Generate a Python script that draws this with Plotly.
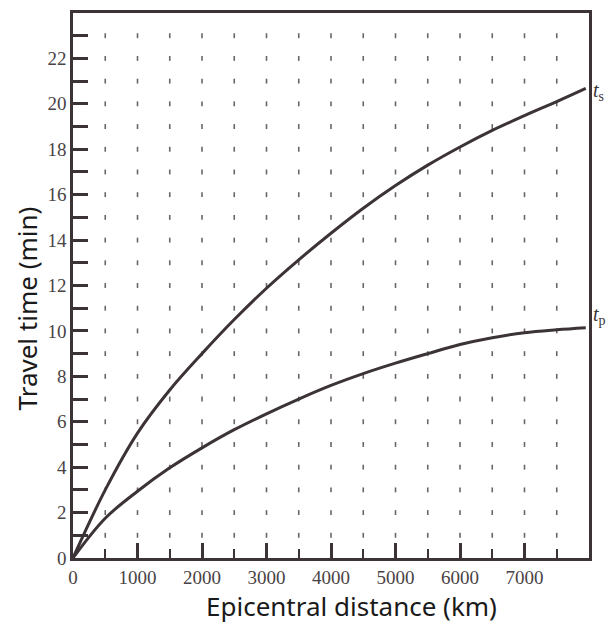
import plotly.graph_objects as go

# ---- data ----
distance_km = [0, 500, 1000, 1500, 2000, 2500, 3000, 3500, 4000, 4500,
               5000, 5500, 6000, 6500, 7000, 7500, 7950]
t_s = [0, 3.0, 5.5, 7.4, 9.0, 10.5, 11.88, 13.13, 14.3, 15.4,
       16.4, 17.3, 18.1, 18.83, 19.48, 20.1, 20.68]
t_p = [0, 1.75, 2.94, 3.97, 4.85, 5.65, 6.35, 7.0, 7.6, 8.12,
       8.58, 9.0, 9.4, 9.7, 9.92, 10.05, 10.14]

x_major_ticks = [0, 1000, 2000, 3000, 4000, 5000, 6000, 7000]
x_tick_labels = ["0", "1000", "2000", "3000", "4000", "5000", "6000", "7000"]
x_minor_ticks = [500, 1500, 2500, 3500, 4500, 5500, 6500, 7500]
y_ticks = list(range(0, 24))
y_tick_labels = [str(v) if v % 2 == 0 else "" for v in y_ticks]

grid_x = [500 * i for i in range(1, 16)]   # dot columns
grid_y = list(range(1, 24))                # dot rows

INK = "#3b3335"
LABEL = "#4a4345"

fig = go.Figure()

# dotted grid (short vertical dashes)
dx, dy = [], []
for gx in grid_x:
    for gy in grid_y:
        dx.append(gx)
        dy.append(gy)
fig.add_trace(go.Scatter(x=dx, y=dy, mode="markers", hoverinfo="skip",
                         marker=dict(symbol="line-ns", size=3.5,
                                     line=dict(width=1.6, color="#6b6466")),
                         showlegend=False))

fig.add_trace(go.Scatter(x=distance_km, y=t_s, mode="lines", name="ts",
                         line=dict(color=INK, width=3, shape="spline", smoothing=1.0),
                         showlegend=False))
fig.add_trace(go.Scatter(x=distance_km, y=t_p, mode="lines", name="tp",
                         line=dict(color=INK, width=3, shape="spline", smoothing=1.0),
                         showlegend=False))

# The page body has an 8px default margin; size the figure so it fits the window.
fig.update_layout(
    width=606, height=621,
    margin=dict(l=65, r=25, t=2, b=71),
    paper_bgcolor="white", plot_bgcolor="white",
    xaxis=dict(range=[0, 8000], tickmode="array", tickvals=x_major_ticks,
               ticktext=x_tick_labels, ticks="inside", ticklen=15, tickwidth=2.5,
               tickcolor=INK, showgrid=False, zeroline=False,
               showline=True, linecolor=INK, linewidth=2.5, mirror=True,
               tickfont=dict(family="Liberation Serif", size=19, color=LABEL),
               minor=dict(tickmode="array", tickvals=x_minor_ticks, ticks="inside",
                          ticklen=9, tickwidth=2, tickcolor=INK, showgrid=False)),
    yaxis=dict(range=[0, 24], tickmode="array", tickvals=y_ticks,
               ticktext=y_tick_labels, ticks="inside", ticklen=15, tickwidth=2.5,
               tickcolor=INK, showgrid=False, zeroline=False,
               showline=True, linecolor=INK, linewidth=2.5, mirror=True,
               tickfont=dict(family="Liberation Serif", size=19, color=LABEL)),
    annotations=[
        dict(text="Epicentral distance (km)", xref="paper", yref="paper",
             x=0.539, y=-0.0876, xanchor="center", yanchor="middle", showarrow=False,
             font=dict(family="Noto Sans", size=26, color="#1a1a1a")),
        dict(text="Travel time (min)", xref="paper", yref="paper",
             x=-0.089, y=0.458, xanchor="center", yanchor="middle", showarrow=False,
             textangle=-90,
             font=dict(family="Noto Sans", size=26, color="#1a1a1a")),
        dict(text="<i>t</i><sub>s</sub>", xref="x", yref="y", x=8000, y=t_s[-1] - 0.15,
             xanchor="left", yanchor="middle", xshift=2, showarrow=False,
             font=dict(family="Liberation Serif", size=20, color=INK)),
        dict(text="<i>t</i><sub>p</sub>", xref="x", yref="y", x=8000, y=t_p[-1] + 0.55,
             xanchor="left", yanchor="middle", xshift=2, showarrow=False,
             font=dict(family="Liberation Serif", size=20, color=INK)),
    ],
)

fig.write_html("out.html")
